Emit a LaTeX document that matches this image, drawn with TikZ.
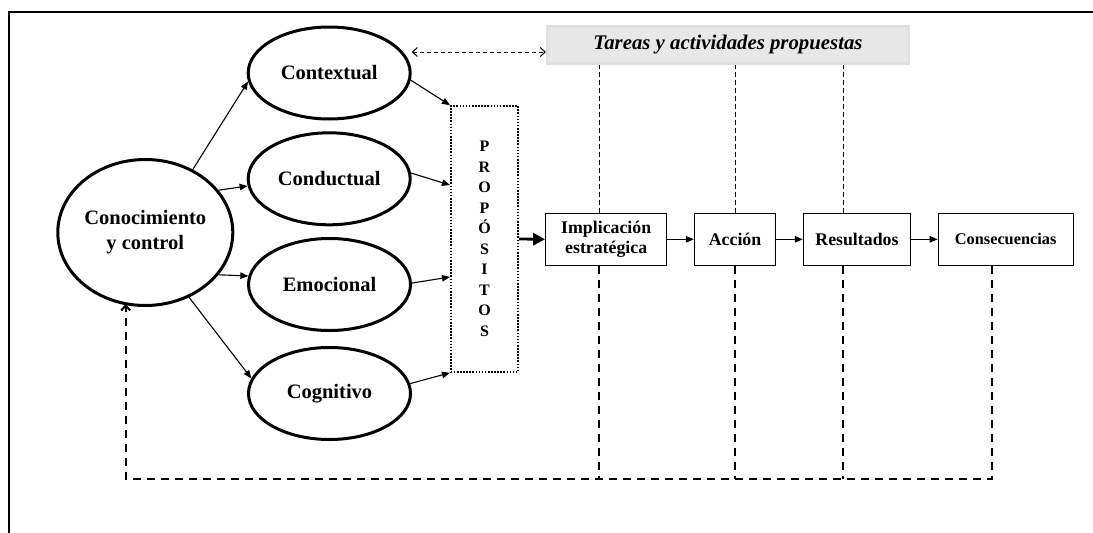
\documentclass[tikz,border=0pt]{standalone}
\usepackage{fontspec}
\setmainfont{Liberation Serif}
\usepackage{tikz}
\usetikzlibrary{arrows.meta,positioning,shapes.geometric}

\begin{document}
\begin{tikzpicture}[x=1pt, y=-1pt, >={Triangle[length=8pt,width=6.5pt]},
    node distance=5mm and 26.5pt,
    oval/.style={ellipse, draw, line width=3pt, inner sep=0pt, align=center,
      minimum width=162pt, minimum height=92pt, font=\bfseries\fontsize{20.5}{25}\selectfont},
    purpose/.style={draw, line width=1.6pt, dash pattern=on 1.6pt off 1.5pt, align=center,
      minimum width=67.5pt, minimum height=266pt, font=\bfseries\fontsize{16}{20.5}\selectfont},
    stage/.style={draw, line width=1pt, align=center, minimum height=52.3pt,
      font=\bfseries\fontsize{17.8}{19.5}\selectfont},
    banner/.style={fill=black!9, draw=black!12, line width=3pt, minimum width=361pt,
      minimum height=37pt, font=\bfseries\itshape\fontsize{20.8}{24}\selectfont},
    link/.style={->, line width=1.1pt},
    guide/.style={line width=0.9pt, dash pattern=on 4.5pt off 3.5pt},
    loopback/.style={line width=2pt, dash pattern=on 8.3pt off 5.7pt},
    hint/.style={{Straight Barb[length=5pt,width=9pt]}-{Straight Barb[length=5pt,width=9pt]},
      line width=1pt, dash pattern=on 4pt off 3pt}]

  \useasboundingbox (0,0) rectangle (1093,533);
  % frame (only top and left edges show)
  \draw[line width=2pt] (8.8,533) -- (8.8,11.7) -- (1093,11.7);

  % --- left: knowledge and its four dimensions ---
  \node[oval, minimum width=175pt, minimum height=146pt] (conoc) at (145.3,232.5) {Conocimiento\\y control};
  \node[oval] (ctx) at (329.2,73) {Contextual};
  \node[oval] (cond) at (329.2,178.8) {Conductual};
  \node[oval] (emo) at (329.5,284.5) {Emocional};
  \node[oval] (cog) at (329.5,393.5) {Cognitivo};
  \node[purpose] (prop) at (484.5,239) {P\\R\\O\\P\\Ó\\S\\I\\T\\O\\S};

  \draw[link] (conoc.53) -- (ctx.186);
  \draw[link] (conoc.30) -- (cond.185);
  \draw[link] (conoc.-30) -- (emo.174);
  \draw[link] (conoc.-56) -- (cog.169);

  \draw[link] (ctx.-5) -- (prop.north west);
  \draw[link] (cond.4) -- ([yshift=54pt]prop.west);
  \draw[link] (emo.1) -- ([yshift=-38pt]prop.west);
  \draw[link] (cog.7) -- (prop.south west);

  % --- right: the strategic chain ---
  \node[stage, minimum width=121.3pt] (impl) at (606.2,239.3) {Implicación\\estratégica};
  \node[stage, minimum width=81.4pt, right=of impl] (acc) {Acción};
  \node[stage, minimum width=107.4pt, right=of acc] (res) {Resultados};
  \node[stage, minimum width=135pt, right=of res, font=\bfseries\fontsize{16.3}{19}\selectfont] (cons) {Consecuencias};

  \draw[-{Triangle[length=12pt,width=12pt]}, line width=2.8pt] (prop.east) -- (impl.west);
  \draw[link] (impl) -- (acc);
  \draw[link] (acc) -- (res);
  \draw[link] (res) -- (cons);

  % --- tasks banner ---
  \node[banner] (tareas) at (728,45) {Tareas y actividades propuestas};
  \coordinate (tw) at ([yshift=-7pt]tareas.west);
  \draw[hint] (ctx.east |- tw) -- (tw);

  \foreach \n/\dx in {impl/-7.2, acc/0, res/-13.6}{
    \coordinate (t\n) at ([xshift=\dx pt]\n.north);
    \draw[guide] (t\n) -- (t\n |- tareas.south);
  }

  % --- feedback loop ---
  \coordinate (fb) at (125.7,479);
  \foreach \n/\dx in {impl/-7.2, acc/0, res/-13.6}{
    \coordinate (b\n) at ([xshift=\dx pt]\n.south);
    \draw[loopback] (b\n) -- (b\n |- fb);
  }
  \coordinate (bcons) at ([xshift=-13.9pt]cons.south);
  \draw[loopback, -{Straight Barb[length=5pt,width=9pt]}, shorten >=-3pt]
    (bcons) |- (fb) -- (fb |- conoc.south);
\end{tikzpicture}
\end{document}
